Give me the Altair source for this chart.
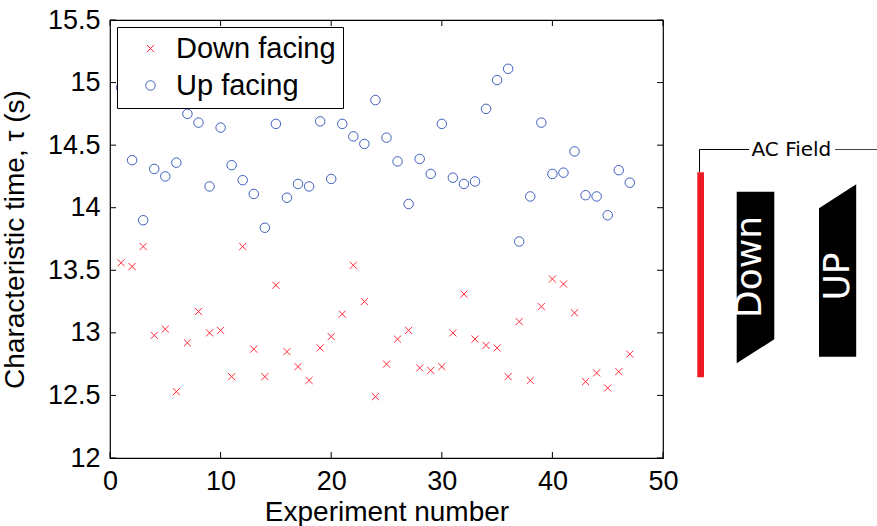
import altair as alt
import pandas as pd

# ---------------- data ----------------
experiments = list(range(1, 48))
down_facing = [13.56, 13.53, 13.69, 12.98, 13.03, 12.53, 12.92, 13.17, 13.00, 13.02,
               12.65, 13.69, 12.87, 12.65, 13.38, 12.85, 12.73, 12.62, 12.88, 12.97,
               13.15, 13.54, 13.25, 12.49, 12.75, 12.95, 13.02, 12.72, 12.70, 12.73,
               13.00, 13.31, 12.95, 12.90, 12.88, 12.65, 13.09, 12.62, 13.21, 13.43,
               13.39, 13.16, 12.61, 12.68, 12.56, 12.69, 12.83]
up_facing = [14.96, 14.38, 13.90, 14.31, 14.25, 14.36, 14.75, 14.68, 14.17, 14.64,
             14.34, 14.22, 14.11, 13.84, 14.67, 14.08, 14.19, 14.17, 14.69, 14.23,
             14.67, 14.57, 14.51, 14.86, 14.56, 14.37, 14.03, 14.39, 14.27, 14.67,
             14.24, 14.19, 14.21, 14.79, 15.02, 15.11, 13.73, 14.09, 14.68, 14.27,
             14.28, 14.45, 14.10, 14.09, 13.94, 14.30, 14.20]
series_names = ["Down facing", "Up facing"]
x_ticks = [0, 10, 20, 30, 40, 50]
y_ticks = [12, 12.5, 13, 13.5, 14, 14.5, 15, 15.5]

# ---------------- layout ----------------
W, H = 553, 438
LEFT, TOP = 110, 20
FONT = "Liberation Sans"
RED = "#ff2a3a"
BLUE = "#3f5fbf"
X_PATH = "M-1,-1L1,1M-1,1L1,-1"

df = pd.DataFrame({
    "exp": experiments + experiments,
    "tau": down_facing + up_facing,
    "series": [series_names[0]] * len(experiments) + [series_names[1]] * len(experiments),
})

xs = alt.Scale(domain=[0, 50], nice=False, zero=False)
ys = alt.Scale(domain=[12, 15.5], nice=False, zero=False)
XT = "Experiment number"
YT = "Characteristic time, τ (s)"

legend = alt.Legend(title=None, orient="top-left", offset=7,
                    fillColor="white", strokeColor="black",
                    padding=7, labelFontSize=29, labelFont=FONT,
                    labelColor="black", symbolSize=64,
                    symbolStrokeWidth=1, rowPadding=7,
                    symbolOffset=12, labelOffset=11)

points = alt.Chart(df).mark_point(filled=False, strokeWidth=1, opacity=1).encode(
    x=alt.X("exp:Q", scale=xs, title=XT,
            axis=alt.Axis(values=x_ticks, format="d", labelPadding=10, titlePadding=4,
                          labelFlush=False)),
    y=alt.Y("tau:Q", scale=ys, title=YT,
            axis=alt.Axis(values=y_ticks, labelPadding=10, titlePadding=18,
                          labelFlush=False, labelExpr="datum.value")),
    color=alt.Color("series:N", scale=alt.Scale(domain=series_names, range=[RED, BLUE]),
                    legend=legend),
    shape=alt.Shape("series:N", scale=alt.Scale(domain=series_names, range=[X_PATH, "circle"]),
                    legend=legend),
    size=alt.Size("series:N", scale=alt.Scale(domain=series_names, range=[50, 90]), legend=None),
)

xtick_df = pd.DataFrame({"exp": x_ticks})
ytick_df = pd.DataFrame({"tau": y_ticks})
TL = 6
bottom_ticks = alt.Chart(xtick_df).mark_rule(color="black", strokeWidth=1).encode(
    x=alt.X("exp:Q", scale=xs, title=XT), y=alt.value(H), y2=alt.value(H - TL))
top_ticks = alt.Chart(xtick_df).mark_rule(color="black", strokeWidth=1).encode(
    x=alt.X("exp:Q", scale=xs, title=XT), y=alt.value(0), y2=alt.value(TL))
left_ticks = alt.Chart(ytick_df).mark_rule(color="black", strokeWidth=1).encode(
    y=alt.Y("tau:Q", scale=ys, title=YT), x=alt.value(0), x2=alt.value(TL))
right_ticks = alt.Chart(ytick_df).mark_rule(color="black", strokeWidth=1).encode(
    y=alt.Y("tau:Q", scale=ys, title=YT), x=alt.value(W), x2=alt.value(W - TL))

main = alt.layer(points, bottom_ticks, top_ticks, left_ticks, right_ticks)

# ---------------- side diagram (absolute page pixel coordinates) ----------------
dx = alt.Scale(domain=[LEFT, LEFT + W], nice=False, zero=False)
dy = alt.Scale(domain=[TOP + H, TOP], nice=False, zero=False)

def X(f):
    return alt.X(f, scale=dx, axis=None)

def Y(f):
    return alt.Y(f, scale=dy, axis=None)

red_bar = alt.Chart(pd.DataFrame({"px": [697.3], "px2": [704.0], "py": [172.3], "py2": [377.3]})).mark_rect(
    color="#ed1c24").encode(x=X("px:Q"), x2="px2:Q", y=Y("py:Q"), y2="py2:Q")

connector = alt.Chart(pd.DataFrame({"px": [699.5, 699.5, 749.0], "py": [172.0, 149.5, 149.5],
                                    "o": [0, 1, 2]})).mark_line(color="black", strokeWidth=1).encode(
    x=X("px:Q"), y=Y("py:Q"), order="o:Q")

tail = alt.Chart(pd.DataFrame({"px": [835.0, 877.0], "py": [149.5, 149.5],
                               "o": [0, 1]})).mark_line(color="#444444", strokeWidth=1).encode(
    x=X("px:Q"), y=Y("py:Q"), order="o:Q")

ac_label = alt.Chart(pd.DataFrame({"px": [751.5], "py": [150.0], "t": ["AC Field"]})).mark_text(
    font="DejaVu Sans", fontSize=20, align="left", baseline="middle", color="black").encode(
    x=X("px:Q"), y=Y("py:Q"), text="t:N")

down_shape = alt.Chart(pd.DataFrame({"px": [736.7, 774.3], "py": [363.3, 339.3],
                                     "py2": [191.7, 191.7]})).mark_area(color="black", opacity=1).encode(
    x=X("px:Q"), y=Y("py:Q"), y2="py2:Q")

up_shape = alt.Chart(pd.DataFrame({"px": [819.0, 856.2], "py": [356.7, 356.7],
                                   "py2": [208.3, 184.3]})).mark_area(color="black", opacity=1).encode(
    x=X("px:Q"), y=Y("py:Q"), y2="py2:Q")

shape_labels = alt.Chart(pd.DataFrame({"px": [750.0, 838.0], "py": [267.0, 276.5],
                                       "t": ["Down", "UP"]})).mark_text(
    font="DejaVu Sans", fontSize=36, angle=270, align="center", baseline="middle",
    color="white").encode(x=X("px:Q"), y=Y("py:Q"), text="t:N")

diagram = alt.layer(red_bar, connector, tail, ac_label, down_shape, up_shape, shape_labels)

chart = alt.layer(main, diagram).resolve_scale(
    x="independent", y="independent"
).properties(
    width=W, height=H,
    autosize=alt.AutoSizeParams(type="none"),
    padding={"left": LEFT, "top": TOP, "right": 877 - LEFT - W, "bottom": 526 - TOP - H},
    background="white",
).configure_view(
    stroke="black", strokeWidth=1.2, fill="white"
).configure_axis(
    domain=False, ticks=False, grid=False,
    labelFont=FONT, labelFontSize=27, labelColor="black",
    titleFont=FONT, titleFontSize=28, titleFontWeight="normal", titleColor="black",
)

chart.save("out.html", embed_options={"renderer": "svg", "actions": False})
